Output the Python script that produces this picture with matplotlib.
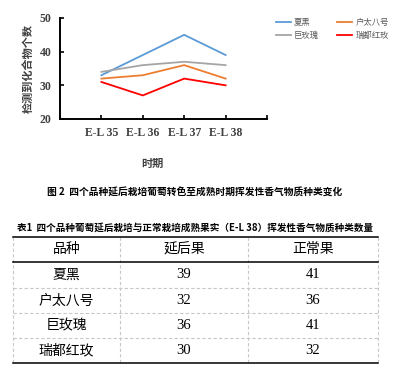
import matplotlib
matplotlib.use("Agg")
import matplotlib.pyplot as plt

plt.rcParams['font.family'] = ['Noto Sans CJK SC', 'DejaVu Sans']

# chart data
stages = ['E-L 35', 'E-L 36', 'E-L 37', 'E-L 38']
varieties = ['夏黑', '户太八号', '巨玫瑰', '瑞都红玫']
xiahei = [33, 39, 45, 39]
hutai8 = [32, 33, 36, 32]
jumeigui = [34, 36, 37, 36]
ruiduhongmei = [31, 27, 32, 30]
colors = ['#5B9BD5', '#ED7D31', '#A5A5A5', '#FF0000']

# table data
table_header = ['品种', '延后果', '正常果']
delayed = [39, 32, 36, 30]
normal = [41, 36, 41, 32]

fig = plt.figure(figsize=(4.08, 3.71), dpi=100)
W, H = 408, 371

ax = fig.add_axes([60 / W, 1 - 119 / H, 207 / W, 101 / H])
series = [xiahei, hutai8, jumeigui, ruiduhongmei]
xs = list(range(len(stages)))
order = [0, 2, 1, 3]
for i in range(4):
    ax.plot(xs, series[i], color=colors[i], lw=1.3, label=varieties[i])

ax.set_xlim(-1, 4)
ax.set_ylim(20, 50)
ax.set_yticks([20, 30, 40, 50])
ax.set_xticks(range(-1, 5))
ax.set_xticklabels([''] + stages + [''])
for s in ['top', 'right']:
    ax.spines[s].set_visible(False)
for s in ['left', 'bottom']:
    ax.spines[s].set_linewidth(1.4)
ax.tick_params(direction='in', length=3, width=1.2, pad=6)
for lab in ax.get_xticklabels() + ax.get_yticklabels():
    lab.set_family('Liberation Serif')
    lab.set_fontweight('bold')
    lab.set_fontsize(8.5)
    lab.set_color('#404040')
ax.set_ylabel('检测到化合物个数', fontsize=8, fontweight='bold', color='#404040', labelpad=4)

handles, labels = ax.get_legend_handles_labels()
leg = fig.legend([handles[i] for i in order], [labels[i] for i in order],
                 loc='upper left', bbox_to_anchor=(268 / W, 1 - 10 / H),
                 ncol=2, frameon=False, fontsize=6, handlelength=1.8,
                 columnspacing=2.2, handletextpad=0.4, labelspacing=0.5)
for t in leg.get_texts():
    t.set_color('#595959')

fig.text(152 / W, 1 - 163 / H, '时期', ha='center', va='center',
         fontsize=8, fontweight='bold', color='#404040')
fig.text(195 / W, 1 - 193 / H, '图 2  四个品种延后栽培葡萄转色至成熟时期挥发性香气物质种类变化',
         ha='center', va='center', fontsize=7, fontweight='bold')
fig.text(17 / W, 1 - 228 / H, '表1  四个品种葡萄延后栽培与正常栽培成熟果实（E-L 38）挥发性香气物质种类数量',
         ha='left', va='center', fontsize=6.9, fontweight='bold')

# table drawn in pixel coordinates
tb = fig.add_axes([0, 0, 1, 1])
tb.set_xlim(0, W)
tb.set_ylim(H, 0)
tb.axis('off')
col_edges = [13, 120, 248, 378]
row_edges = [237, 262, 288, 313, 338, 363]
for x in col_edges:
    tb.plot([x, x], [row_edges[0], row_edges[-1]], color='#C8C8C8', lw=0.8, ls=(0, (3, 2)))
for j, y in enumerate(row_edges):
    if j in (0, 1, len(row_edges) - 1):
        tb.plot([col_edges[0], col_edges[-1]], [y, y], color='black', lw=1.1)
    else:
        tb.plot([col_edges[0], col_edges[-1]], [y, y], color='#C8C8C8', lw=0.8, ls=(0, (3, 2)))

col_centers = [(col_edges[i] + col_edges[i + 1]) / 2 for i in range(3)]
row_centers = [(row_edges[i] + row_edges[i + 1]) / 2 for i in range(5)]
for i, h in enumerate(table_header):
    tb.text(col_centers[i], row_centers[0], h, ha='center', va='center', fontsize=10)
for r in range(4):
    tb.text(col_centers[0], row_centers[r + 1], varieties[r], ha='center', va='center', fontsize=10)
    tb.text(col_centers[1], row_centers[r + 1], str(delayed[r]), ha='center', va='center',
            fontsize=10.5, family='Liberation Serif')
    tb.text(col_centers[2], row_centers[r + 1], str(normal[r]), ha='center', va='center',
            fontsize=10.5, family='Liberation Serif')

fig.savefig('out.png', dpi=100)
